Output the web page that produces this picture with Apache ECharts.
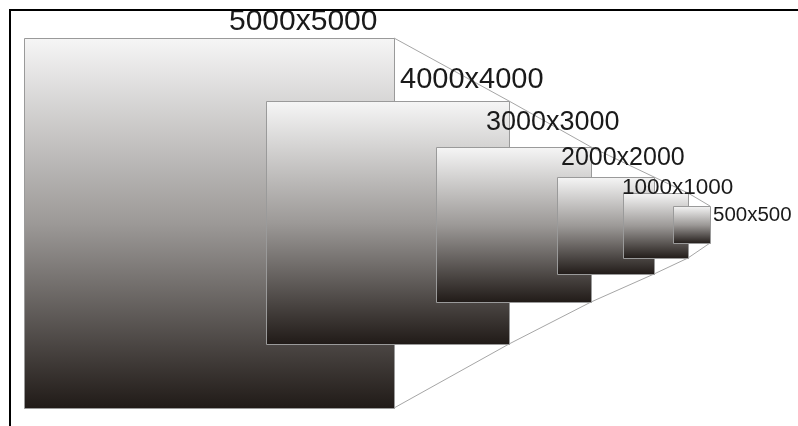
<!DOCTYPE html>
<html>
<head>
<meta charset="utf-8">
<script src="https://cdn.jsdelivr.net/npm/echarts@6/dist/echarts.min.js"></script>
<style>
html,body{margin:0;padding:0;background:#fff;}
#chart{width:798px;height:426px;}
</style>
</head>
<body>
<div id="chart"></div>
<script>
// Square labels (resolutions)
const labels = ['5000x5000', '4000x4000', '3000x3000', '2000x2000', '1000x1000', '500x500'];
// Drawn geometry in drawing units (right edge, top edge, side length)
const rightEdge = [394, 509, 591, 654, 688, 710];
const topEdge = [38, 101, 147, 177, 193, 206];
const sideLen = [370, 243, 155, 97, 65, 37];
// Label anchor (left x, middle y) in drawing units
const labelLeft = [229, 400, 486, 561, 622, 713];
const labelMid = [22, 80, 123, 158, 188, 215];
const labelSize = [30, 29, 27, 25, 22.5, 20.5];

const chart = echarts.init(document.getElementById('chart'), null, {renderer: 'canvas'});

const topLine = rightEdge.map((x, i) => [x, topEdge[i]]);
const bottomLine = rightEdge.map((x, i) => [x, topEdge[i] + sideLen[i]]);

const squareData = labels.map((l, i) => [rightEdge[i] - sideLen[i], topEdge[i], rightEdge[i], topEdge[i] + sideLen[i]]);
const labelData = labels.map((l, i) => [labelLeft[i], labelMid[i], i]);

const option = {
  animation: false,
  backgroundColor: '#ffffff',
  grid: {left: 0, right: 0, top: 0, bottom: 0},
  xAxis: {type: 'value', min: 0, max: 798, show: false},
  yAxis: {type: 'value', min: 0, max: 426, inverse: true, show: false},
  graphic: [
    {type: 'line', shape: {x1: 9, y1: 10, x2: 798, y2: 10}, style: {stroke: '#000', lineWidth: 2}, z: 100},
    {type: 'line', shape: {x1: 10, y1: 9, x2: 10, y2: 426}, style: {stroke: '#000', lineWidth: 2}, z: 100}
  ],
  series: [
    {
      type: 'line', data: topLine, symbol: 'none', z: 1,
      lineStyle: {color: '#a6a6a6', width: 1}
    },
    {
      type: 'line', data: bottomLine, symbol: 'none', z: 1,
      lineStyle: {color: '#a6a6a6', width: 1}
    },
    {
      type: 'custom', z: 2,
      data: squareData,
      renderItem: function (params, api) {
        const p1 = api.coord([api.value(0), api.value(1)]);
        const p2 = api.coord([api.value(2), api.value(3)]);
        return {
          type: 'rect',
          shape: {x: p1[0] + 0.5, y: p1[1] + 0.5, width: p2[0] - p1[0], height: p2[1] - p1[1]},
          style: {
            fill: new echarts.graphic.LinearGradient(0, 0, 0, 1, [
              {offset: 0, color: '#f6f6f6'},
              {offset: 0.5, color: '#9c9997'},
              {offset: 1, color: '#201a17'}
            ]),
            stroke: '#9a9a9a',
            lineWidth: 1
          }
        };
      }
    },
    {
      type: 'custom', z: 5,
      data: labelData,
      renderItem: function (params, api) {
        const p = api.coord([api.value(0), api.value(1)]);
        const i = api.value(2);
        return {
          type: 'text',
          style: {
            text: labels[i],
            x: p[0], y: p[1],
            align: 'left', verticalAlign: 'middle',
            font: labelSize[i] + 'px "Liberation Sans", Arial, sans-serif',
            fill: '#1a1a1a'
          }
        };
      }
    }
  ]
};
chart.setOption(option);
</script>
</body>
</html>
